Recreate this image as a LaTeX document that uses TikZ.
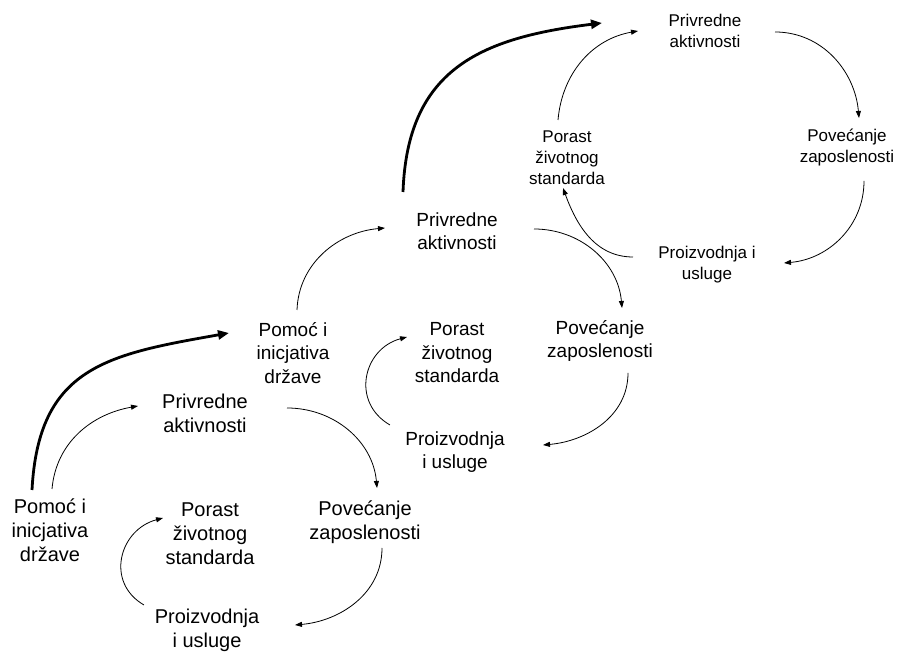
\documentclass[tikz,border=0pt]{standalone}
\usepackage{fontspec}
\setmainfont{Liberation Sans}
\usetikzlibrary{arrows.meta}
\begin{document}
\begin{tikzpicture}[x=1pt,y=1pt,
  lbig/.style={align=center,inner sep=0pt,font=\fontsize{20}{24}\selectfont},
  lmid/.style={align=center,inner sep=0pt,font=\fontsize{19}{23.5}\selectfont},
  lsmall/.style={align=center,inner sep=0pt,font=\fontsize{17}{21}\selectfont},
  flow/.style={line width=0.8pt,-{Triangle[length=7pt,width=5pt]}},
  jump/.style={line width=2.8pt,-{Triangle[length=11pt,width=9pt]}}]
\useasboundingbox (0,0) rectangle (900,652);
\fill[white] (0,0) rectangle (900,652);

% lower cycle
\node[lbig] (bpom) at (50,122) {Pomoć i\\inicjativa\\države};
\node[lbig] (bpriv) at (205,239) {Privredne\\aktivnosti};
\node[lbig] (bpor) at (210,118) {Porast\\životnog\\standarda};
\node[lbig] (bpov) at (365,130) {Povećanje\\zaposlenosti};
\node[lbig] (bpro) at (207,22) {Proizvodnja\\i usluge};

% middle cycle
\node[lmid] (mpom) at (293,299) {Pomoć i\\inicjativa\\države};
\node[lmid] (mpriv) at (457,421) {Privredne\\aktivnosti};
\node[lmid] (mpor) at (457,299) {Porast\\životnog\\standarda};
\node[lmid] (mpov) at (600,311) {Povećanje\\zaposlenosti};
\node[lmid] (mpro) at (455,200) {Proizvodnja\\i usluge};

% upper cycle
\node[lsmall] (tpriv) at (705,621) {Privredne\\aktivnosti};
\node[lsmall] (tpor) at (567,494) {Porast\\životnog\\standarda};
\node[lsmall] (tpov) at (847,504) {Povećanje\\zaposlenosti};
\node[lsmall] (tpro) at (707,387) {Proizvodnja i\\usluge};

% lower cycle arrows
\draw[flow] ([shift={(2,41)}]bpom.center) to[out=85,in=190] ([shift={(-67,7)}]bpriv.center);
\draw[flow] ([shift={(82,5)}]bpriv.center) to[out=0,in=95] ([shift={(12,34)}]bpov.center);
\draw[flow] ([shift={(17,-26)}]bpov.center) to[out=-90,in=5] ([shift={(88,5)}]bpro.center);
\draw[flow] ([shift={(-63,25)}]bpro.center) to[out=150,in=195,looseness=1.3] ([shift={(-47,16)}]bpor.center);
\draw[jump] ([shift={(-18,40)}]bpom.center) to[out=87,in=190,looseness=1.25] ([shift={(-64,20)}]mpom.center);

% middle cycle arrows
\draw[flow] ([shift={(4,43)}]mpom.center) to[out=88,in=185] ([shift={(-72,3)}]mpriv.center);
\draw[flow] ([shift={(77,2)}]mpriv.center) to[out=0,in=95] ([shift={(22,33)}]mpov.center);
\draw[flow] ([shift={(28,-32)}]mpov.center) to[out=-90,in=5] ([shift={(88,7)}]mpro.center);
\draw[flow] ([shift={(-65,27)}]mpro.center) to[out=150,in=195,looseness=1.3] ([shift={(-50,16)}]mpor.center);
\draw[jump] ([shift={(-54,39)}]mpriv.center) to[out=88,in=187,looseness=1.2] ([shift={(-103,8)}]tpriv.center);

% upper cycle arrows
\draw[flow] ([shift={(-9,38)}]tpor.center) to[out=85,in=190] ([shift={(-67,0)}]tpriv.center);
\draw[flow] ([shift={(70,-1)}]tpriv.center) to[out=0,in=95] ([shift={(12,30)}]tpov.center);
\draw[flow] ([shift={(17,-33)}]tpov.center) to[out=-90,in=5] ([shift={(77,2)}]tpro.center);
\draw[flow] ([shift={(-74,8)}]tpro.center) to[out=180,in=-70] ([shift={(-4,-30)}]tpor.center);
\end{tikzpicture}
\end{document}
